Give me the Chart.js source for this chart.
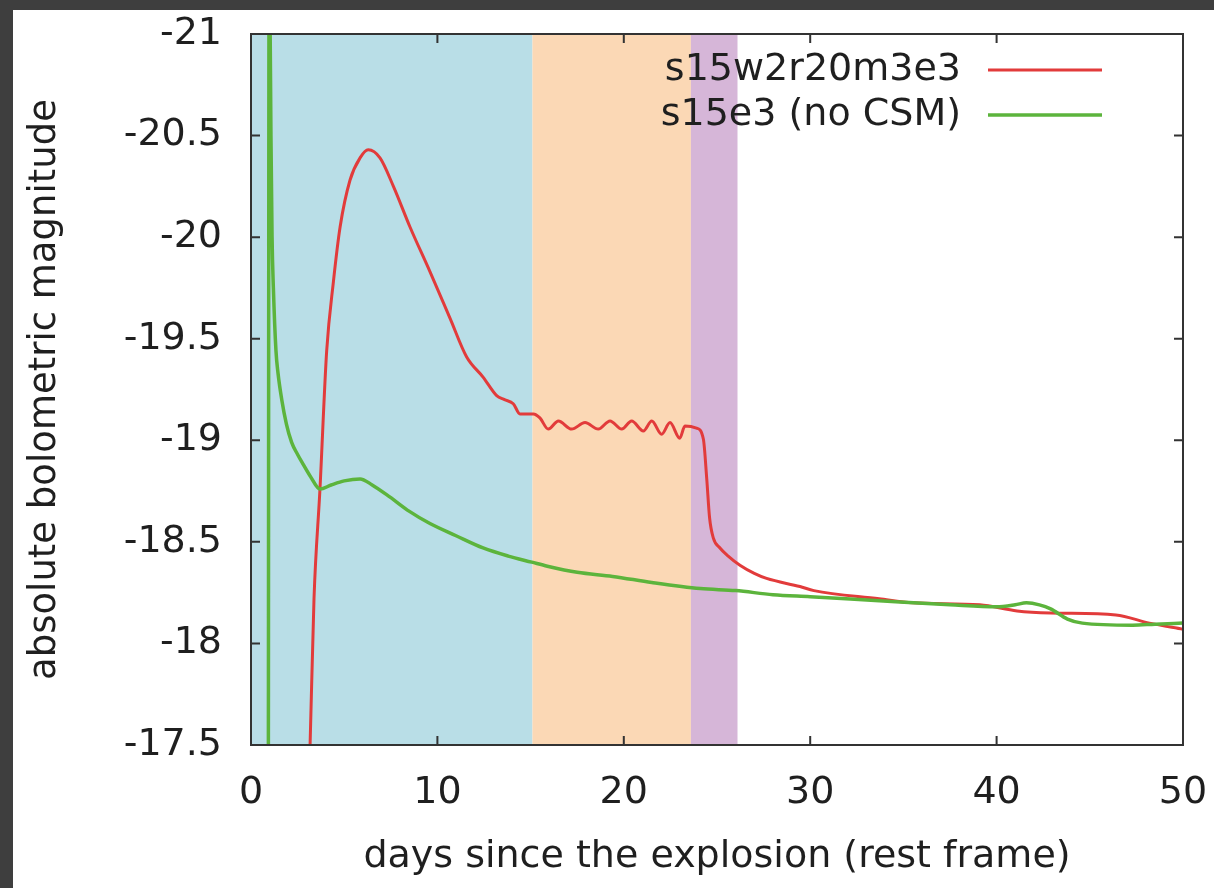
<!DOCTYPE html>
<html lang="en">
<head>
  <meta charset="UTF-8" />
  <title>Bolometric light curves</title>
  <script src="https://cdn.jsdelivr.net/npm/chart.js"></script>
  <style>
    body {
      margin: 0;
      width: 1214px;
      height: 888px;
      overflow: hidden;
      background: #3e3e3e;
    }

    #panel {
      position: absolute;
      left: 13px;
      top: 10px;
      width: 1201px;
      height: 878px;
      background: #ffffff;
    }
  </style>
</head>
<body>
  <div id="panel">
    <canvas id="lc" width="1201" height="878"></canvas>
  </div>

  <script>
    // days since explosion / absolute bolometric magnitude
    const csmDays = [3.05, 3.17, 3.38, 3.70, 4.06, 4.42, 4.78, 5.31, 5.85, 6.29, 6.92, 7.64, 8.53, 9.60, 10.68,
      11.57, 12.46, 13.18, 13.6, 14.07, 14.43, 15.15, 15.5, 15.95, 16.49, 17.2, 17.92, 18.63, 19.26, 19.89,
      20.42, 21.05, 21.5, 22.03, 22.48, 23.0, 23.28, 23.9, 24.27, 24.45, 24.6, 24.8, 25.16, 25.6, 26.23, 27.0, 27.66,
      29.45, 30.2, 33.7, 35.5, 39.1, 41.1, 42.9, 46.4, 48.2, 50];
    const csmMag = [-17.15, -17.5, -18.22, -18.76, -19.44, -19.78, -20.05, -20.28, -20.39, -20.43, -20.39, -20.25, -20.05, -19.83, -19.60,
      -19.41, -19.31, -19.22, -19.20, -19.18, -19.13, -19.13, -19.11, -19.055, -19.095, -19.055, -19.087, -19.055, -19.095, -19.055,
      -19.095, -19.046, -19.095, -19.03, -19.087, -19.01, -19.07, -19.06, -19.005, -18.81, -18.62, -18.52, -18.47, -18.43, -18.385, -18.345, -18.32,
      -18.28, -18.26, -18.22, -18.20, -18.19, -18.16, -18.15, -18.14, -18.10, -18.07];

    const noCsmDays = [0.93, 0.97, 1.02, 1.07, 1.13, 1.2, 1.34, 1.45, 1.65, 1.9, 2.18, 2.5, 2.81, 3.2, 3.7, 4.3, 5.0, 5.85, 6.5, 7.46, 8.5, 9.6,
      11, 12.45, 13.8, 15.06, 15.9, 17.5, 19.4, 21.5, 24.1, 26, 28, 30, 33.7, 37.5, 40, 41.0, 41.6, 42.3, 42.9,
      43.8, 44.6, 47.3, 48.5, 50];
    const noCsmMag = [-17.2, -21.3, -21.1, -20.5, -20.0, -19.75, -19.44, -19.33, -19.2, -19.08, -18.99, -18.93, -18.88, -18.82, -18.76, -18.78, -18.80, -18.81, -18.78, -18.72, -18.65, -18.59,
      -18.53, -18.47, -18.43, -18.40, -18.38, -18.35, -18.33, -18.30, -18.27, -18.26, -18.24, -18.23, -18.21, -18.19, -18.18, -18.19, -18.20, -18.19, -18.17,
      -18.12, -18.10, -18.09, -18.095, -18.10];

    // shaded phases (days)
    const bandStart = [0, 15.1, 23.6];
    const bandEnd = [15.1, 23.6, 26.1];
    const bandColors = ['#b9dee7', '#fbd8b5', '#d6b6d8'];

    const seriesLabels = ['s15w2r20m3e3', 's15e3 (no CSM)'];
    const seriesColors = ['#e23b3b', '#5cb43c'];

    const font = 'DejaVu Sans';
    const textColor = '#1f1f1f';

    function points(xs, ys) {
      return xs.map((x, i) => ({ x: x, y: ys[i] }));
    }

    const bands = {
      id: 'bands',
      beforeDatasetsDraw(chart) {
        const { ctx, chartArea: a, scales: { x } } = chart;
        ctx.save();
        bandStart.forEach((s, i) => {
          const x0 = x.getPixelForValue(s);
          const x1 = x.getPixelForValue(bandEnd[i]);
          ctx.fillStyle = bandColors[i];
          ctx.fillRect(x0, a.top, x1 - x0, a.height);
        });
        ctx.restore();
      }
    };

    // gnuplot-like frame with inward ticks on all four sides
    const frame = {
      id: 'frame',
      afterDatasetsDraw(chart) {
        const { ctx, chartArea: a, scales: { x, y } } = chart;
        const len = 9;
        ctx.save();
        ctx.strokeStyle = '#333';
        ctx.lineWidth = 2;
        ctx.beginPath();
        x.ticks.forEach(t => {
          const px = x.getPixelForValue(t.value);
          ctx.moveTo(px, a.bottom); ctx.lineTo(px, a.bottom - len);
          ctx.moveTo(px, a.top); ctx.lineTo(px, a.top + len);
        });
        y.ticks.forEach(t => {
          const py = y.getPixelForValue(t.value);
          ctx.moveTo(a.left, py); ctx.lineTo(a.left + len, py);
          ctx.moveTo(a.right, py); ctx.lineTo(a.right - len, py);
        });
        ctx.stroke();
        ctx.strokeRect(a.left, a.top, a.width, a.height);
        ctx.restore();
      }
    };

    const keyBox = {
      id: 'keyBox',
      afterDraw(chart) {
        const { ctx, chartArea: a } = chart;
        ctx.save();
        ctx.font = '38px "' + font + '"';
        ctx.textAlign = 'right';
        ctx.textBaseline = 'middle';
        chart.data.datasets.forEach((ds, i) => {
          const yy = a.top + 36 + i * 45;
          ctx.fillStyle = textColor;
          ctx.fillText(ds.label, a.right - 222, yy);
          ctx.strokeStyle = ds.borderColor;
          ctx.lineWidth = ds.borderWidth;
          ctx.beginPath();
          ctx.moveTo(a.right - 195, yy);
          ctx.lineTo(a.right - 81, yy);
          ctx.stroke();
        });
        ctx.restore();
      }
    };

    new Chart(document.getElementById('lc').getContext('2d'), {
      type: 'line',
      data: {
        datasets: [{
          label: seriesLabels[0],
          data: points(csmDays, csmMag),
          borderColor: seriesColors[0],
          borderWidth: 3,
          pointRadius: 0,
          cubicInterpolationMode: 'monotone',
          order: 2
        }, {
          label: seriesLabels[1],
          data: points(noCsmDays, noCsmMag),
          borderColor: seriesColors[1],
          borderWidth: 3.5,
          pointRadius: 0,
          cubicInterpolationMode: 'monotone',
          order: 1
        }]
      },
      options: {
        responsive: false,
        animation: false,
        devicePixelRatio: 1,
        layout: { padding: { top: 24, right: 31, left: 0, bottom: 0 } },
        plugins: {
          legend: { display: false },
          tooltip: { enabled: false }
        },
        scales: {
          x: {
            type: 'linear',
            min: 0,
            max: 50,
            grid: { display: false, drawTicks: false },
            border: { display: false },
            ticks: {
              stepSize: 10,
              padding: 25,
              color: textColor,
              font: { family: font, size: 38 }
            },
            title: {
              display: true,
              text: 'days since the explosion (rest frame)',
              color: textColor,
              font: { family: font, size: 38 },
              padding: { top: 0, bottom: 8 }
            },
            afterFit: s => {
              s.height = 143;
              s.paddingLeft = 0;
              s.paddingRight = 0;
            }
          },
          y: {
            type: 'linear',
            reverse: true,
            min: -21,
            max: -17.5,
            grid: { display: false, drawTicks: false },
            border: { display: false },
            ticks: {
              stepSize: 0.5,
              padding: 29,
              color: textColor,
              font: { family: font, size: 38 },
              callback: v => String(+v.toFixed(1))
            },
            title: {
              display: true,
              text: 'absolute bolometric magnitude',
              color: textColor,
              font: { family: font, size: 37 },
              padding: { top: 10, bottom: 0 }
            },
            afterFit: s => {
              s.width = 238;
              s.paddingTop = 0;
              s.paddingBottom = 0;
            }
          }
        }
      },
      plugins: [bands, frame, keyBox]
    });
  </script>
</body>
</html>
